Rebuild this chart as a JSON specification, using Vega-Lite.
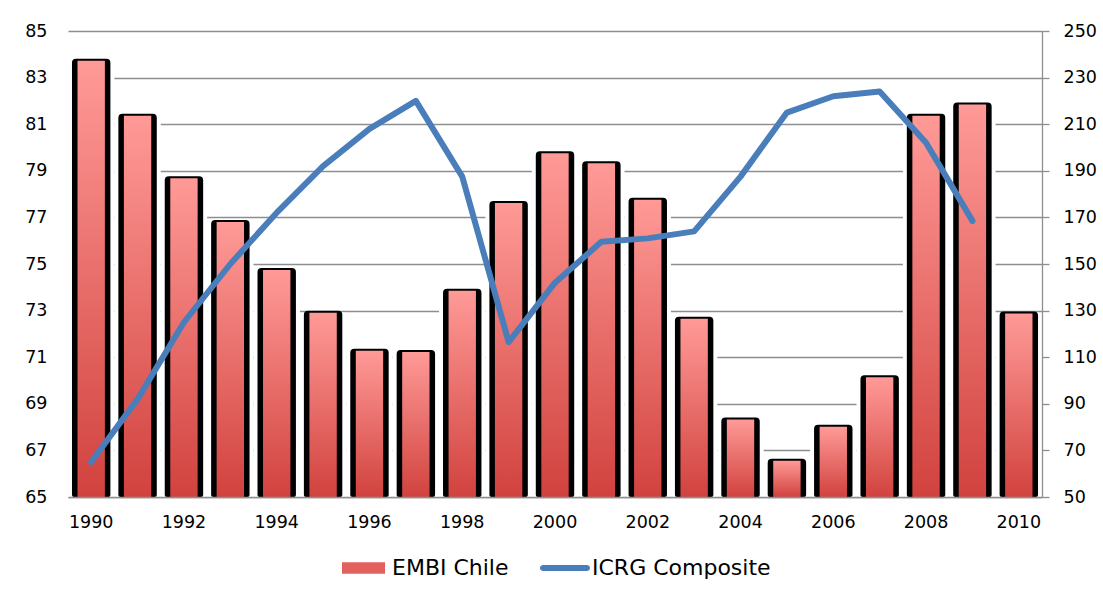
{
  "$schema": "https://vega.github.io/schema/vega-lite/v6.json",
  "width": 974,
  "height": 466,
  "autosize": {"type": "none"},
  "padding": {"left": 68, "top": 31, "right": 61, "bottom": 97},
  "background": "white",
  "config": {
    "font": "DejaVu Sans",
    "view": {"stroke": null},
    "axis": {
      "labelFont": "DejaVu Sans",
      "labelFontSize": 17.5,
      "labelColor": "#000000",
      "domainColor": "#8E8E8E",
      "tickColor": "#8E8E8E",
      "gridColor": "#8E8E8E",
      "domainWidth": 1.3,
      "tickWidth": 1.3,
      "gridWidth": 1.3,
      "title": null
    },
    "legend": {
      "orient": "bottom",
      "direction": "horizontal",
      "title": null,
      "labelFont": "DejaVu Sans",
      "labelFontSize": 22,
      "labelColor": "#000000",
      "labelLimit": 400,
      "symbolSize": 2500,
      "symbolOpacity": 1,
      "symbolStrokeWidth": 0,
      "labelOffset": 2,
      "columnPadding": 31,
      "offset": 12,
      "layout": {"bottom": {"anchor": "middle"}}
    }
  },
  "data": {
    "values": [
      {"year": 1990, "embi": 83.72, "icrg": 65},
      {"year": 1991, "embi": 81.36, "icrg": 92},
      {"year": 1992, "embi": 78.68, "icrg": 125},
      {"year": 1993, "embi": 76.8, "icrg": 150},
      {"year": 1994, "embi": 74.74, "icrg": 172},
      {"year": 1995, "embi": 72.91, "icrg": 192},
      {"year": 1996, "embi": 71.28, "icrg": 208},
      {"year": 1997, "embi": 71.22, "icrg": 220},
      {"year": 1998, "embi": 73.85, "icrg": 187.5},
      {"year": 1999, "embi": 77.62, "icrg": 116.5},
      {"year": 2000, "embi": 79.75, "icrg": 142},
      {"year": 2001, "embi": 79.32, "icrg": 159.5},
      {"year": 2002, "embi": 77.76, "icrg": 161},
      {"year": 2003, "embi": 72.65, "icrg": 164},
      {"year": 2004, "embi": 68.33, "icrg": 187.5},
      {"year": 2005, "embi": 66.56, "icrg": 215},
      {"year": 2006, "embi": 68.02, "icrg": 222},
      {"year": 2007, "embi": 70.14, "icrg": 224},
      {"year": 2008, "embi": 81.36, "icrg": 202},
      {"year": 2009, "embi": 81.85, "icrg": 168.5},
      {"year": 2010, "embi": 72.88, "icrg": null}
    ]
  },
  "encoding": {
    "x": {
      "field": "year",
      "type": "ordinal",
      "scale": {"paddingInner": 0, "paddingOuter": 0},
      "axis": {
        "values": [1990, 1992, 1994, 1996, 1998, 2000, 2002, 2004, 2006, 2008, 2010],
        "labelAngle": 0,
        "ticks": false,
        "labelPadding": 16,
        "domain": true,
        "zindex": 1,
        "title": null
      }
    }
  },
  "layer": [
    {
      "encoding": {
        "y": {
          "field": "embi",
          "type": "quantitative",
          "scale": {"domain": [65, 85], "zero": false, "nice": false},
          "axis": {
            "values": [65, 67, 69, 71, 73, 75, 77, 79, 81, 83, 85],
            "grid": true,
            "domain": false,
            "ticks": false,
            "tickSize": 0,
            "labelPadding": 21,
            "title": null
          }
        },
        "y2": {"datum": 65}
      },
      "layer": [
        {"mark": {"type": "bar", "fill": "#FFFFFF", "width": {"band": 1}}},
        {
          "mark": {
            "type": "bar",
            "fill": "#000000",
            "stroke": "#000000",
            "strokeWidth": 4,
            "strokeJoin": "round",
            "cornerRadiusTopLeft": 2,
            "cornerRadiusTopRight": 2,
            "y2Offset": -2,
            "width": {"band": 0.742}
          }
        },
        {
          "mark": {
            "type": "bar",
            "width": {"band": 0.59},
            "fill": {
              "gradient": "linear",
              "x1": 0, "y1": 0, "x2": 0, "y2": 1,
              "stops": [
                {"offset": 0, "color": "#FF9A97"},
                {"offset": 1, "color": "#D1423E"}
              ]
            }
          }
        }
      ]
    },
    {
      "mark": {"type": "line", "stroke": "#4A7EBB", "strokeWidth": 6, "strokeCap": "round", "strokeJoin": "round"},
      "encoding": {
        "y": {
          "field": "icrg",
          "type": "quantitative",
          "scale": {"domain": [50, 250], "nice": false},
          "axis": {
            "orient": "right",
            "values": [50, 70, 90, 110, 130, 150, 170, 190, 210, 230, 250],
            "grid": false,
            "domain": true,
            "ticks": true,
            "tickSize": 7,
            "labelPadding": 14,
            "zindex": 1,
            "title": null
          }
        }
      }
    },
    {
      "mark": {"type": "point", "filled": true, "opacity": 0},
      "encoding": {
        "color": {
          "datum": "ICRG Composite",
          "scale": {"domain": ["EMBI Chile", "ICRG Composite"], "range": ["#E3615D", "#4A7EBB"]}
        },
        "shape": {
          "datum": "ICRG Composite",
          "scale": {
            "domain": ["EMBI Chile", "ICRG Composite"],
            "range": [
              "M-0.92,-0.232H0.8V0.232H-0.92Z",
              "M-0.88,-0.12H0.88A0.12,0.12 0 0 1 0.88,0.12H-0.88A0.12,0.12 0 0 1 -0.88,-0.12Z"
            ]
          }
        }
      }
    }
  ],
  "resolve": {"scale": {"y": "independent"}}
}
